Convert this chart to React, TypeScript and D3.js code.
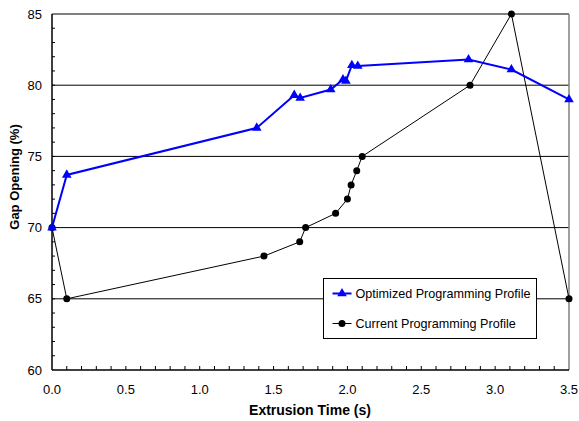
import * as d3 from 'd3';
import React, { useEffect, useRef } from 'react';

const optTime = [0, 0.1, 1.386, 1.64, 1.68, 1.887, 1.97, 1.99, 2.03, 2.07, 2.82, 3.11, 3.5];
const optGap = [70, 73.7, 77, 79.3, 79.1, 79.7, 80.4, 80.3, 81.4, 81.35, 81.8, 81.1, 79];

const curTime = [0, 0.1, 1.435, 1.677, 1.717, 1.92, 2.0, 2.025, 2.063, 2.1, 2.83, 3.11, 3.5];
const curGap = [70, 65, 68, 69, 70, 71, 72, 73, 74, 75, 80, 85, 65];

const xTicks = [0, 0.5, 1, 1.5, 2, 2.5, 3, 3.5];
const yTicks = [60, 65, 70, 75, 80, 85];
const gridLines = [65, 70, 75, 80];

const W = 579;
const H = 421;
const margin = { top: 14, right: 10, bottom: 51, left: 52 };
const font = 'Liberation Sans, Arial, sans-serif';

function App() {
  const svgRef = useRef<SVGSVGElement>(null);

  useEffect(() => {
    const svg = d3.select(svgRef.current);
    svg.selectAll('*').remove();

    const x = d3.scaleLinear().domain([0, 3.5]).range([margin.left, W - margin.right]);
    const y = d3.scaleLinear().domain([60, 85]).range([H - margin.bottom, margin.top]);

    // grid
    svg
      .selectAll('.grid')
      .data(gridLines)
      .join('line')
      .attr('x1', x(0))
      .attr('x2', x(3.5))
      .attr('y1', d => y(d))
      .attr('y2', d => y(d))
      .attr('stroke', '#000')
      .attr('stroke-width', 1);

    // frame top/right
    svg
      .append('line')
      .attr('x1', x(0))
      .attr('x2', x(3.5))
      .attr('y1', y(85))
      .attr('y2', y(85))
      .attr('stroke', '#000');
    svg
      .append('line')
      .attr('x1', x(3.5))
      .attr('x2', x(3.5))
      .attr('y1', y(85))
      .attr('y2', y(60))
      .attr('stroke', '#808080')
      .attr('stroke-width', 1.5);

    // minor ticks (inside)
    const yMinor = d3.range(61, 85, 1);
    svg
      .selectAll('.ytick')
      .data(yMinor)
      .join('line')
      .attr('x1', x(0))
      .attr('x2', x(0) + 3)
      .attr('y1', d => y(d))
      .attr('y2', d => y(d))
      .attr('stroke', '#000');
    const xMinor = d3.range(1, 35, 1).map(i => i / 10);
    svg
      .selectAll('.xtick')
      .data(xMinor)
      .join('line')
      .attr('x1', d => x(d))
      .attr('x2', d => x(d))
      .attr('y1', y(60))
      .attr('y2', y(60) - 4)
      .attr('stroke', '#000');

    // axes lines
    svg
      .append('line')
      .attr('x1', x(0))
      .attr('x2', x(0))
      .attr('y1', y(85))
      .attr('y2', y(60))
      .attr('stroke', '#000')
      .attr('stroke-width', 1.5);
    svg
      .append('line')
      .attr('x1', x(0))
      .attr('x2', x(3.5))
      .attr('y1', y(60))
      .attr('y2', y(60))
      .attr('stroke', '#000')
      .attr('stroke-width', 1.5);

    // tick labels
    svg
      .selectAll('.ylab')
      .data(yTicks)
      .join('text')
      .attr('x', x(0) - 10)
      .attr('y', d => y(d))
      .attr('dy', '0.35em')
      .attr('text-anchor', 'end')
      .attr('font-family', font)
      .attr('font-size', 13)
      .text(d => d);
    svg
      .selectAll('.xlab')
      .data(xTicks)
      .join('text')
      .attr('x', d => x(d))
      .attr('y', y(60) + 24)
      .attr('text-anchor', 'middle')
      .attr('font-family', font)
      .attr('font-size', 13)
      .text(d => d.toFixed(1));

    // axis titles
    svg
      .append('text')
      .attr('x', 310)
      .attr('y', H - 6)
      .attr('text-anchor', 'middle')
      .attr('font-family', font)
      .attr('font-size', 14)
      .attr('font-weight', 'bold')
      .text('Extrusion Time (s)');
    svg
      .append('text')
      .attr('transform', `translate(19,177) rotate(-90)`)
      .attr('text-anchor', 'middle')
      .attr('font-family', font)
      .attr('font-size', 13)
      .attr('font-weight', 'bold')
      .text('Gap Opening (%)');

    const triangle = d3.symbol().type(d3.symbolTriangle).size(40);
    const lineGen = d3
      .line<[number, number]>()
      .x(d => x(d[0]))
      .y(d => y(d[1]));

    const cur: [number, number][] = curTime.map((t, i) => [t, curGap[i]]);
    const opt: [number, number][] = optTime.map((t, i) => [t, optGap[i]]);

    svg
      .append('path')
      .attr('d', lineGen(cur))
      .attr('fill', 'none')
      .attr('stroke', '#000')
      .attr('stroke-width', 1);
    svg
      .selectAll('.curpt')
      .data(cur)
      .join('circle')
      .attr('cx', d => x(d[0]))
      .attr('cy', d => y(d[1]))
      .attr('r', 3.5)
      .attr('fill', '#000');

    svg
      .append('path')
      .attr('d', lineGen(opt))
      .attr('fill', 'none')
      .attr('stroke', '#0000ff')
      .attr('stroke-width', 2);
    svg
      .selectAll('.optpt')
      .data(opt)
      .join('path')
      .attr('d', triangle)
      .attr('transform', d => `translate(${x(d[0])},${y(d[1])})`)
      .attr('fill', '#0000ff');

    // legend
    const lg = svg.append('g').attr('transform', 'translate(323.5,278.5)');
    lg.append('rect')
      .attr('width', 213)
      .attr('height', 60)
      .attr('fill', '#fff')
      .attr('stroke', '#000');
    const items = [
      { label: 'Optimized Programming Profile', color: '#0000ff', w: 2, tri: true },
      { label: 'Current Programming Profile', color: '#000', w: 1, tri: false },
    ];
    items.forEach((it, i) => {
      const cy = 15 + i * 30;
      lg.append('line')
        .attr('x1', 9)
        .attr('x2', 28)
        .attr('y1', cy)
        .attr('y2', cy)
        .attr('stroke', it.color)
        .attr('stroke-width', it.w);
      if (it.tri) {
        lg.append('path')
          .attr('d', triangle)
          .attr('transform', `translate(18.5,${cy})`)
          .attr('fill', it.color);
      } else {
        lg.append('circle').attr('cx', 18.5).attr('cy', cy).attr('r', 3.5).attr('fill', it.color);
      }
      lg.append('text')
        .attr('x', 32)
        .attr('y', cy)
        .attr('dy', '0.35em')
        .attr('font-family', font)
        .attr('font-size', 12.6)
        .text(it.label);
    });
  }, []);

  return <svg ref={svgRef} width={W} height={H} style={{ position: 'absolute', left: 0, top: 0 }} />;
}

export default App;
